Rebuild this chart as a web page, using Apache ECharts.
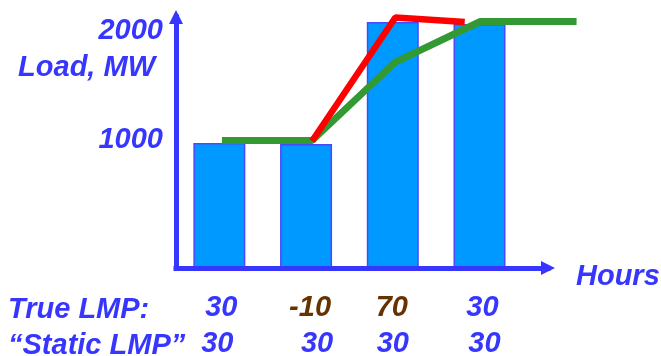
<!DOCTYPE html>
<html>
<head>
<meta charset="utf-8">
<script src="https://cdn.jsdelivr.net/npm/echarts@6/dist/echarts.min.js"></script>
<style>
html,body{margin:0;padding:0;background:#fff;}
#c{width:661px;height:356px;}
</style>
</head>
<body>
<div id="c"></div>
<script>
// ---- data ----
const hours = [1, 2, 3, 4];
const loadMW = [996, 988, 1960, 1984];      // bar tops
const loadBase = [0, 0, 0, 40];             // bar bottoms
const trueLMP = [30, -10, 70, 30];
const staticLMP = [30, 30, 30, 30];
const yTickLabels = [1000, 2000];
// "static" (green) and "true" (red) load path, [hour, MW]
const greenPath = [[1.03, 1016], [2.07, 1016], [3.03, 1641], [4.01, 1964], [5.12, 1964]];
const redPath = [[2.07, 1012], [3.03, 1996], [3.83, 1960]];

const BLUE = '#3636ff';
const BROWN = '#663300';
const FONT = '"Liberation Sans", Arial, sans-serif';
const FONTSTR = 'italic bold 29px ' + FONT;
const txt = { fontFamily: FONT, fontSize: 29, fontWeight: 'bold', fontStyle: 'italic' };

// small horizontal nudges of the LMP labels (style only): [true row, static row] per hour
const labelNudge = [[2, -2], [4, 11], [-1, 0], [3, 5]];
function pad(dx) { return dx >= 0 ? [0, 0, 0, 2 * dx] : [0, -2 * dx, 0, 0]; }
const rich = {};
hours.forEach((h, i) => {
  rich['t' + i] = Object.assign({ color: trueLMP[i] === staticLMP[i] ? BLUE : BROWN, lineHeight: 36, padding: pad(labelNudge[i][0]) }, txt);
  rich['s' + i] = Object.assign({ color: BLUE, lineHeight: 36, padding: pad(labelNudge[i][1]) }, txt);
});

const chart = echarts.init(document.getElementById('c'));
chart.setOption({
  animation: false,
  grid: [
    { left: 176, top: 17, right: 113, bottom: 88, outerBoundsMode: 'none', containLabel: false },
    { left: 176, top: 17, right: 84, bottom: 88, outerBoundsMode: 'none', containLabel: false }
  ],
  xAxis: [{
    type: 'value', min: 0.5, max: 4.79, z: 5, gridIndex: 0,
    axisLine: { show: true, symbol: ['none', 'triangle'], symbolSize: [14, 14],
      lineStyle: { color: BLUE, width: 5, cap: 'square' } },
    axisTick: { show: false },
    splitLine: { show: false },
    axisLabel: {
      customValues: hours,
      margin: 22,
      formatter: function (v) {
        const i = hours.indexOf(Math.round(v));
        if (i < 0) return '';
        return '{t' + i + '|' + trueLMP[i] + '}\n{s' + i + '|' + staticLMP[i] + '}';
      },
      rich: rich
    }
  }, {
    type: 'value', min: 0.5, max: 5.125, gridIndex: 1, show: false
  }],
  yAxis: [{
    type: 'value', min: 0, max: 2000, z: 5, gridIndex: 0,
    axisLine: { show: true, symbol: ['none', 'triangle'], symbolSize: [14, 14],
      lineStyle: { color: BLUE, width: 5, cap: 'square' } },
    axisTick: { show: false },
    splitLine: { show: false },
    axisLabel: { show: false }
  }, {
    type: 'value', min: -170, max: 2133, position: 'left', gridIndex: 0,
    axisLine: { show: false }, axisTick: { show: false }, splitLine: { show: false },
    axisLabel: Object.assign({ customValues: yTickLabels, color: BLUE, margin: 13,
      formatter: function (v) { return String(v); } }, txt)
  }, {
    type: 'value', min: 0, max: 2000, gridIndex: 1, show: false
  }],
  graphic: [
    { type: 'text', style: { text: 'Load, MW', x: 155, y: 68, fill: BLUE, align: 'right', verticalAlign: 'middle', font: FONTSTR } },
    { type: 'text', style: { text: 'Hours', x: 576, y: 277, fill: BLUE, align: 'left', verticalAlign: 'middle', font: FONTSTR } },
    { type: 'text', style: { text: 'True LMP:', x: 8, y: 310, fill: BLUE, align: 'left', verticalAlign: 'middle', font: FONTSTR } },
    { type: 'text', style: { text: '\u201CStatic LMP\u201D', x: 8, y: 346, fill: BLUE, align: 'left', verticalAlign: 'middle', font: FONTSTR } }
  ],
  series: [
    { type: 'bar', stack: 'load', barWidth: 52, silent: true, xAxisIndex: 0, yAxisIndex: 0,
      itemStyle: { color: 'transparent' },
      data: hours.map((h, i) => [h, loadBase[i]]) },
    { type: 'bar', stack: 'load', barWidth: 52, xAxisIndex: 0, yAxisIndex: 0,
      itemStyle: { color: '#0099ff', borderColor: '#4848ff', borderWidth: 1.5 },
      data: hours.map((h, i) => [h, loadMW[i] - loadBase[i]]) },
    { type: 'line', data: greenPath, symbol: 'none', clip: false, z: 6, xAxisIndex: 1, yAxisIndex: 2,
      lineStyle: { color: '#339933', width: 7 } },
    { type: 'line', data: redPath, symbol: 'none', clip: false, z: 7, xAxisIndex: 1, yAxisIndex: 2,
      lineStyle: { color: '#ff0000', width: 6.5 } }
  ]
});
</script>
</body>
</html>
